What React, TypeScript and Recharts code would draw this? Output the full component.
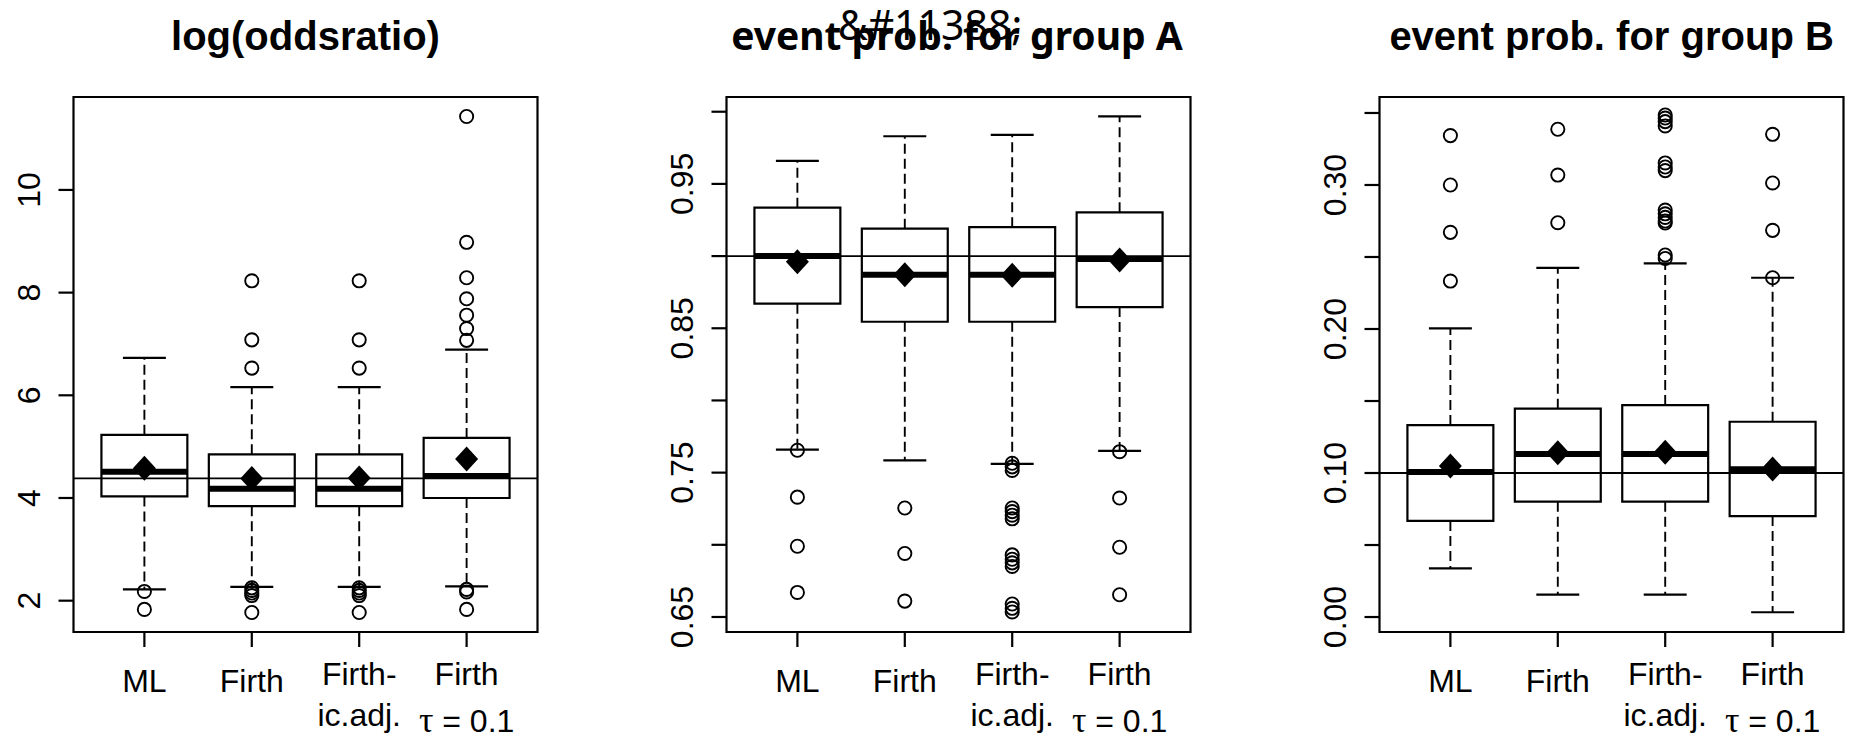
import React from "react";
import {
  ComposedChart,
  XAxis,
  YAxis,
  ReferenceArea,
  ReferenceLine,
  Scatter,
} from "recharts";

// ---------- categories ----------
const methods = ["ML", "Firth", "Firth-\nic.adj.", "Firth\nτ = 0.1"];
const positions = [1, 2, 3, 4];

// ---------- panel 1: log(oddsratio) ----------
const lorTitle = "log(oddsratio)";
const lorLowerWhisker = [2.22, 2.27, 2.27, 2.28];
const lorQ1 = [4.03, 3.84, 3.84, 4.0];
const lorMedian = [4.51, 4.18, 4.18, 4.43];
const lorQ3 = [5.23, 4.85, 4.85, 5.17];
const lorUpperWhisker = [6.73, 6.16, 6.16, 6.89];
const lorMean = [4.58, 4.38, 4.39, 4.76];
const lorOutliers = [
  [2.18, 1.83],
  [8.23, 7.08, 6.53, 2.25, 2.2, 2.15, 2.1, 1.77],
  [8.23, 7.08, 6.53, 2.25, 2.2, 2.15, 2.1, 1.77],
  [11.43, 8.98, 8.29, 7.88, 7.56, 7.3, 7.07, 2.22, 2.17, 1.83],
];
const lorTrue = 4.382;
const lorTicks = [2, 4, 6, 8, 10];
const lorTickLabels = [2, 4, 6, 8, 10];

// ---------- panel 2: event prob. for group A ----------
const probATitle = "event prob. for group A";
const probAGlitch = "&#11388;";
const probALowerWhisker = [0.766, 0.7585, 0.756, 0.765];
const probAQ1 = [0.867, 0.8545, 0.8545, 0.8647];
const probAMedian = [0.9, 0.887, 0.887, 0.898];
const probAQ3 = [0.9335, 0.919, 0.92, 0.9303];
const probAUpperWhisker = [0.966, 0.983, 0.984, 0.9968];
const probAMean = [0.896, 0.887, 0.8867, 0.8973];
const probAOutliers = [
  [0.7655, 0.733, 0.699, 0.667],
  [0.7255, 0.694, 0.661],
  [0.7565, 0.754, 0.7515, 0.7255, 0.723, 0.7205, 0.718, 0.693, 0.69, 0.6875, 0.685, 0.659, 0.656, 0.6535],
  [0.7645, 0.7324, 0.6983, 0.6654],
];
const probATrue = 0.9;
const probATicks = [0.65, 0.7, 0.75, 0.8, 0.85, 0.9, 0.95, 1.0];
const probATickLabels = [0.65, 0.75, 0.85, 0.95];

// ---------- panel 3: event prob. for group B ----------
const probBTitle = "event prob. for group B";
const probBLowerWhisker = [0.0338, 0.0155, 0.0155, 0.0033];
const probBQ1 = [0.0667, 0.0801, 0.0801, 0.0701];
const probBMedian = [0.1007, 0.1132, 0.1132, 0.1026];
const probBQ3 = [0.1333, 0.1447, 0.1472, 0.1356];
const probBUpperWhisker = [0.2005, 0.2424, 0.2456, 0.2356];
const probBMean = [0.1049, 0.1141, 0.1144, 0.1028];
const probBOutliers = [
  [0.3343, 0.3, 0.2671, 0.2333],
  [0.3387, 0.3069, 0.2738],
  [0.3486, 0.3465, 0.344, 0.341, 0.3153, 0.3125, 0.31, 0.2826, 0.28, 0.2775, 0.275, 0.2736, 0.2514, 0.249],
  [0.3352, 0.3014, 0.2685, 0.2356],
];
const probBTrue = 0.1;
const probBTicks = [0, 0.05, 0.1, 0.15, 0.2, 0.25, 0.3, 0.35];
const probBTickLabels = [0, 0.1, 0.2, 0.3];

// ---------- layout / style ----------
const SANS = "'Liberation Sans', Arial, Helvetica, sans-serif";
const FONT_AXIS = 32;
const CHART_W = 544;
const CHART_H = 744;
const Y_AXIS_W = 60;
const X_AXIS_H = 100;
const MARGIN = { top: 97, right: 6.5, bottom: 12, left: 13.5 };
const X_DOMAIN: [number, number] = [0.34, 4.66];
const BOX_HALF = 0.4;
const CAP_HALF = 0.2;
const INK = "#000";

type Stats = {
  lw: number[];
  q1: number[];
  med: number[];
  q3: number[];
  uw: number[];
  mean: number[];
  outliers: number[][];
};

type PanelProps = {
  left: number;
  stats: Stats;
  domain: [number, number];
  ticks: number[];
  tickLabels: number[];
  digits: number;
  trueValue: number;
};

const XTick = (props: any) => {
  const { x, y, payload } = props;
  const label = methods[Math.round(payload.value) - 1] || "";
  const lines = label.split("\n");
  const offsets = lines.length === 1 ? [45] : [38, 79];
  return (
    <g>
      {lines.map((ln, k) => {
        const isTau = ln.startsWith("τ");
        const dy = offsets[k] + (isTau ? 6 : 0);
        return (
          <text
            key={k}
            x={x}
            y={y + dy}
            textAnchor="middle"
            fontFamily={SANS}
            fontSize={FONT_AXIS}
            fill={INK}
          >
            {isTau ? (
              <>
                <tspan fontFamily="'Liberation Serif', 'DejaVu Serif', serif" fontSize={FONT_AXIS + 4}>τ</tspan>
                <tspan>{ln.slice(1)}</tspan>
              </>
            ) : (
              ln
            )}
          </text>
        );
      })}
    </g>
  );
};

const makeYTick = (labels: number[], digits: number) => (props: any) => {
  const { x, y, payload } = props;
  const v = payload.value as number;
  if (!labels.some((l) => Math.abs(l - v) < 1e-9)) return <g />;
  return (
    <text
      transform={`translate(${x},${y}) rotate(-90)`}
      textAnchor="middle"
      fontFamily={SANS}
      fontSize={FONT_AXIS}
      fill={INK}
    >
      {v.toFixed(digits)}
    </text>
  );
};

const circleShape = (p: any) => (
  <circle cx={p.cx} cy={p.cy} r={6.6} fill="none" stroke={INK} strokeWidth={1.9} />
);

const diamondShape = (p: any) => (
  <path
    d={`M${p.cx},${p.cy - 12.5} L${p.cx + 11.5},${p.cy} L${p.cx},${p.cy + 12.5} L${p.cx - 11.5},${p.cy} Z`}
    fill={INK}
  />
);

const Panel = ({ left, stats, domain, ticks, tickLabels, digits, trueValue }: PanelProps) => {
  const outlierData = positions.flatMap((p, i) => stats.outliers[i].map((v) => ({ x: p, y: v })));
  const meanData = positions.map((p, i) => ({ x: p, y: stats.mean[i] }));
  return (
    <div style={{ position: "absolute", left, top: 0, width: CHART_W, height: CHART_H }}>
      <ComposedChart width={CHART_W} height={CHART_H} margin={MARGIN}>
        <XAxis
          type="number"
          dataKey="x"
          domain={X_DOMAIN}
          allowDataOverflow
          ticks={positions}
          interval={0}
          axisLine={false}
          tickLine={{ stroke: INK, strokeWidth: 2.2 }}
          tickSize={15}
          tickMargin={0}
          height={X_AXIS_H}
          tick={(p: any) => <XTick {...p} />}
        />
        <YAxis
          type="number"
          dataKey="y"
          domain={domain}
          allowDataOverflow
          ticks={ticks}
          interval={0}
          axisLine={false}
          tickLine={{ stroke: INK, strokeWidth: 2.2 }}
          tickSize={15}
          tickMargin={19}
          width={Y_AXIS_W}
          tick={makeYTick(tickLabels, digits)}
        />
        {/* plot frame */}
        <ReferenceArea
          x1={X_DOMAIN[0]}
          x2={X_DOMAIN[1]}
          y1={domain[0]}
          y2={domain[1]}
          fill="none"
          stroke={INK}
          strokeWidth={2.2}
          ifOverflow="visible"
        />
        {positions.map((p, i) => (
          <ReferenceArea
            key={`box${i}`}
            x1={p - BOX_HALF}
            x2={p + BOX_HALF}
            y1={stats.q1[i]}
            y2={stats.q3[i]}
            fill="none"
            stroke={INK}
            strokeWidth={2.2}
            ifOverflow="visible"
          />
        ))}
        {positions.map((p, i) => (
          <ReferenceLine
            key={`wu${i}`}
            segment={[
              { x: p, y: stats.q3[i] },
              { x: p, y: stats.uw[i] },
            ]}
            stroke={INK}
            strokeWidth={1.9}
            strokeDasharray="10 5"
            ifOverflow="visible"
          />
        ))}
        {positions.map((p, i) => (
          <ReferenceLine
            key={`wl${i}`}
            segment={[
              { x: p, y: stats.q1[i] },
              { x: p, y: stats.lw[i] },
            ]}
            stroke={INK}
            strokeWidth={1.9}
            strokeDasharray="10 5"
            ifOverflow="visible"
          />
        ))}
        {positions.map((p, i) => (
          <ReferenceLine
            key={`cu${i}`}
            segment={[
              { x: p - CAP_HALF, y: stats.uw[i] },
              { x: p + CAP_HALF, y: stats.uw[i] },
            ]}
            stroke={INK}
            strokeWidth={2.2}
            ifOverflow="visible"
          />
        ))}
        {positions.map((p, i) => (
          <ReferenceLine
            key={`cl${i}`}
            segment={[
              { x: p - CAP_HALF, y: stats.lw[i] },
              { x: p + CAP_HALF, y: stats.lw[i] },
            ]}
            stroke={INK}
            strokeWidth={2.2}
            ifOverflow="visible"
          />
        ))}
        {positions.map((p, i) => (
          <ReferenceLine
            key={`md${i}`}
            segment={[
              { x: p - BOX_HALF, y: stats.med[i] },
              { x: p + BOX_HALF, y: stats.med[i] },
            ]}
            stroke={INK}
            strokeWidth={6}
            ifOverflow="visible"
          />
        ))}
        <ReferenceLine y={trueValue} stroke={INK} strokeWidth={1.8} ifOverflow="visible" />
        <Scatter data={outlierData} shape={circleShape} isAnimationActive={false} />
        <Scatter data={meanData} shape={diamondShape} isAnimationActive={false} />
      </ComposedChart>
    </div>
  );
};

const lorStats: Stats = {
  lw: lorLowerWhisker,
  q1: lorQ1,
  med: lorMedian,
  q3: lorQ3,
  uw: lorUpperWhisker,
  mean: lorMean,
  outliers: lorOutliers,
};
const probAStats: Stats = {
  lw: probALowerWhisker,
  q1: probAQ1,
  med: probAMedian,
  q3: probAQ3,
  uw: probAUpperWhisker,
  mean: probAMean,
  outliers: probAOutliers,
};
const probBStats: Stats = {
  lw: probBLowerWhisker,
  q1: probBQ1,
  med: probBMedian,
  q3: probBQ3,
  uw: probBUpperWhisker,
  mean: probBMean,
  outliers: probBOutliers,
};

export default function App() {
  return (
    <div
      style={{
        position: "absolute",
        left: 0,
        top: 0,
        width: 1850,
        height: 744,
        overflow: "hidden",
        background: "#fff",
      }}
    >
      <Panel
        left={0}
        stats={lorStats}
        domain={[1.39, 11.81]}
        ticks={lorTicks}
        tickLabels={lorTickLabels}
        digits={0}
        trueValue={lorTrue}
      />
      <Panel
        left={653.3}
        stats={probAStats}
        domain={[0.6396, 1.0102]}
        ticks={probATicks}
        tickLabels={probATickLabels}
        digits={2}
        trueValue={probATrue}
      />
      <Panel
        left={1306}
        stats={probBStats}
        domain={[-0.0104, 0.3611]}
        ticks={probBTicks}
        tickLabels={probBTickLabels}
        digits={2}
        trueValue={probBTrue}
      />
      <svg
        width={1850}
        height={744}
        style={{ position: "absolute", left: 0, top: 0, pointerEvents: "none" }}
      >
        <text x={305.5} y={50} textAnchor="middle" fontFamily={SANS} fontWeight="bold" fontSize={40} fill={INK}>
          {lorTitle}
        </text>
        <text x={957} y={50} textAnchor="middle" fontFamily="'Noto Sans', 'Open Sans', sans-serif" fontWeight="bold" fontSize={39} fill={INK}>
          {probATitle}
        </text>
        <text x={930} y={40} textAnchor="middle" fontFamily="'Noto Sans', 'Open Sans', sans-serif" fontSize={41} fill={INK}>
          {probAGlitch}
        </text>
        <text x={1611.6} y={50} textAnchor="middle" fontFamily={SANS} fontWeight="bold" fontSize={40} fill={INK}>
          {probBTitle}
        </text>
      </svg>
    </div>
  );
}
